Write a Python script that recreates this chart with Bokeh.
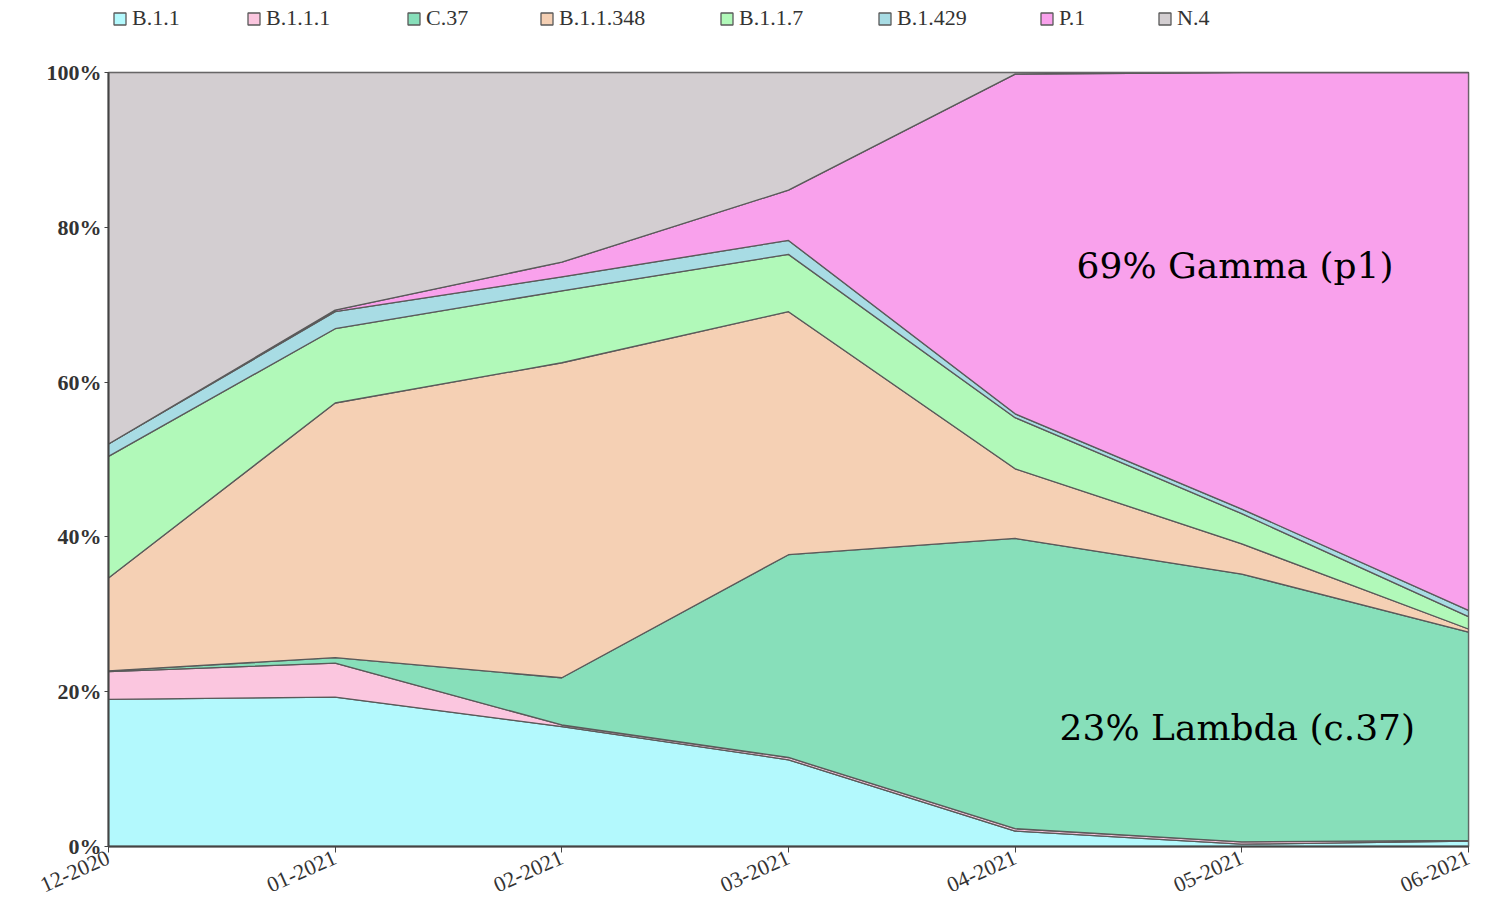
from bokeh.plotting import figure
from bokeh.models import Range1d, FixedTicker, Legend, LegendItem
from bokeh.layouts import column
from bokeh.core.properties import value
from bokeh.embed import file_html
from bokeh.resources import INLINE

# ---- data (percent share per month) ----
months = ["12-2020", "01-2021", "02-2021", "03-2021", "04-2021", "05-2021", "06-2021"]
variants = ["B.1.1", "B.1.1.1", "C.37", "B.1.1.348", "B.1.1.7", "B.1.429", "P.1", "N.4"]
b_1_1     = [19.0, 19.3, 15.5, 11.2,  2.0,  0.3,  0.7]
b_1_1_1   = [ 3.6,  4.4,  0.2,  0.3,  0.3,  0.3,  0.1]
c_37      = [ 0.1,  0.7,  6.1, 26.2, 37.5, 34.6, 26.9]
b_1_1_348 = [12.0, 32.9, 40.7, 31.4,  9.0,  3.9,  0.4]
b_1_1_7   = [15.7,  9.6,  9.3,  7.4,  6.6,  3.9,  1.6]
b_1_429   = [ 1.6,  2.2,  1.8,  1.8,  0.5,  0.6,  0.8]
p_1       = [ 0.0,  0.2,  1.9,  6.5, 43.9, 56.4, 69.5]
n_4       = [48.0, 30.7, 24.5, 15.2,  0.2,  0.0,  0.0]
series = [b_1_1, b_1_1_1, c_37, b_1_1_348, b_1_1_7, b_1_429, p_1, n_4]
colors = ["#B3F9FD", "#FBC6DF", "#87DFBA", "#F5D0B4", "#B1F9B9", "#A8DCE4", "#F9A1EC", "#D3CED1"]

y_ticks = [0, 20, 40, 60, 80, 100]
y_tick_labels = ["0%", "20%", "40%", "60%", "80%", "100%"]

annotations = ["69% Gamma (p1)", "23% Lambda (c.37)"]
annotation_x = [4.97, 4.98]
annotation_y = [75.1, 15.4]

SERIF = "Liberation Serif"
LINE = "#5a5a5a"
W = 1490
LEG_H = 36

# ---------------- main chart ----------------
p = figure(width=W, height=904 - LEG_H, output_backend="svg", toolbar_location=None,
           title=None,
           x_range=Range1d(0, len(months) - 1), y_range=Range1d(0, 100),
           min_border_left=108, min_border_right=22, min_border_top=72 - LEG_H,
           min_border_bottom=58)
p.xgrid.visible = False
p.ygrid.visible = False
p.outline_line_color = "#555555"
p.outline_line_width = 1.5
p.background_fill_color = "white"

# legend strip (its frame is aligned with the chart's frame by the column)
leg = figure(width=W, height=LEG_H, output_backend="svg", toolbar_location=None,
             title=None, x_axis_type=None, y_axis_type=None,
             x_range=Range1d(0, len(months) - 1), y_range=Range1d(-10, -9),
             min_border=0, outline_line_color=None)

xs = list(range(len(months)))
total = [sum(s[i] for s in series) for i in xs]
bottom = [0.0] * len(xs)
legend_renderers = []
for name, vals, col in zip(variants, series, colors):
    vals_n = [v * 100.0 / t for v, t in zip(vals, total)]
    top = [b + v for b, v in zip(bottom, vals_n)]
    px = xs + xs[::-1]
    py = top + bottom[::-1]
    p.patch(px, py, fill_color=col, line_color=LINE, line_width=1.3, line_join="round")
    # same area in the legend strip, outside its visible range: only its legend glyph shows
    legend_renderers.append(leg.patch(px, py, fill_color=col, line_color=LINE, line_width=1.3))
    bottom = top

p.text(x=annotation_x, y=annotation_y, text=annotations,
       text_font=value("DejaVu Serif"), text_font_size="36px",
       text_align="center", text_baseline="middle", text_color="black")

p.xaxis.ticker = FixedTicker(ticks=xs)
p.xaxis.major_label_overrides = {i: m for i, m in enumerate(months)}
p.xaxis.major_label_orientation = 0.42
p.yaxis.ticker = FixedTicker(ticks=y_ticks)
p.yaxis.major_label_overrides = {t: l for t, l in zip(y_ticks, y_tick_labels)}
for ax in (p.xaxis[0], p.yaxis[0]):
    ax.axis_line_color = "#444444"
    ax.axis_line_width = 2
    ax.major_tick_line_color = "#444444"
    ax.major_tick_in = 0
    ax.minor_tick_line_color = None
    ax.major_label_text_font = SERIF
    ax.major_label_text_color = "#333333"
p.yaxis.major_label_text_font_size = "22px"
p.yaxis.major_label_text_font_style = "bold"
p.xaxis.major_label_text_font_size = "22px"
p.yaxis.major_tick_out = 4
p.yaxis.major_label_standoff = 3
p.xaxis.major_tick_out = 6
p.xaxis.major_label_standoff = 4

# one legend per entry so each can sit where the reference puts it
legend_offsets = [4, 138, 298, 431, 611, 769, 931, 1049]
for name, r, lx in zip(variants, legend_renderers, legend_offsets):
    lg = Legend(items=[LegendItem(label=name, renderers=[r])],
                orientation="horizontal", location=(lx, 5),
                glyph_width=15, glyph_height=15, label_standoff=5,
                padding=0, margin=0, border_line_color=None,
                background_fill_alpha=0,
                label_text_font=SERIF, label_text_font_size="22px",
                label_text_color="#333333")
    leg.add_layout(lg, "center")

layout = column(leg, p, spacing=0)
open("out.html", "w").write(file_html(layout, INLINE))
